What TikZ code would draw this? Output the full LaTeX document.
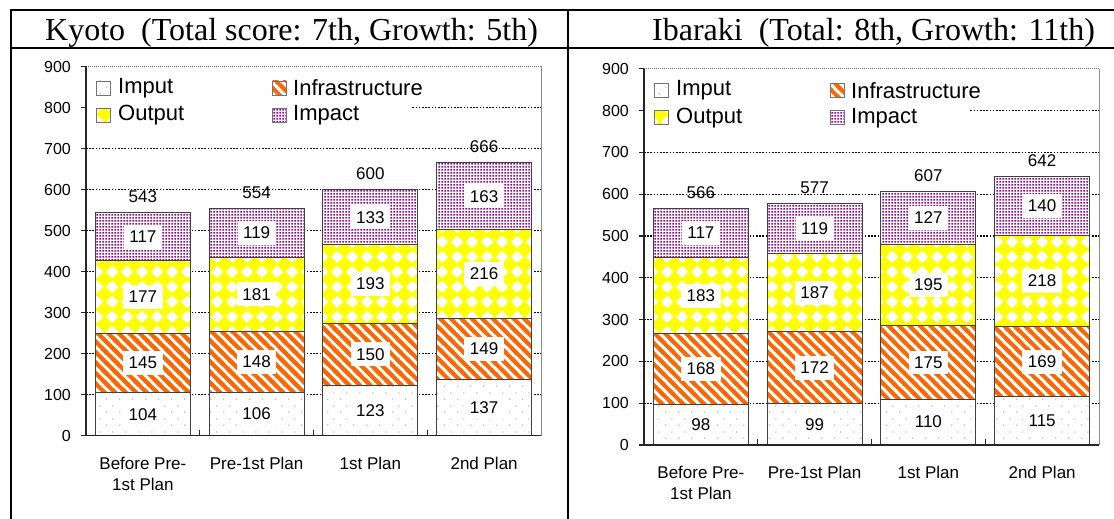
\documentclass[tikz,border=0pt]{standalone}
\usepackage{fontspec}
\setmainfont{Liberation Serif}
\setsansfont{Liberation Sans}
\usetikzlibrary{patterns}

\definecolor{infraorange}{RGB}{255,102,0}
\definecolor{outyellow}{RGB}{255,255,0}
\definecolor{imppurple}{RGB}{153,0,153}

% sparse grey dots
\pgfdeclarepatternformonly{imputdots}{\pgfqpoint{0pt}{0pt}}{\pgfqpoint{13pt}{13pt}}{\pgfqpoint{13pt}{13pt}}{%
  \pgfpathcircle{\pgfqpoint{3pt}{3pt}}{0.8pt}%
  \pgfpathcircle{\pgfqpoint{9.5pt}{9.5pt}}{0.8pt}%
  \pgfusepath{fill}}
% broad falling stripes
\pgfdeclarepatternformonly{infrastripes}{\pgfqpoint{-4pt}{-4pt}}{\pgfqpoint{14.5pt}{14.5pt}}{\pgfqpoint{10.5pt}{10.5pt}}{%
  \pgfsetlinewidth{3.9pt}%
  \pgfpathmoveto{\pgfqpoint{-4pt}{14.5pt}}%
  \pgfpathlineto{\pgfqpoint{14.5pt}{-4pt}}%
  \pgfusepath{stroke}}
% diamond grid
\newcommand{\dmdpath}[2]{%
  \pgfpathmoveto{\pgfpointadd{\pgfqpoint{#1}{#2}}{\pgfqpoint{8.3pt}{0pt}}}%
  \pgfpathlineto{\pgfpointadd{\pgfqpoint{#1}{#2}}{\pgfqpoint{0pt}{8.3pt}}}%
  \pgfpathlineto{\pgfpointadd{\pgfqpoint{#1}{#2}}{\pgfqpoint{-8.3pt}{0pt}}}%
  \pgfpathlineto{\pgfpointadd{\pgfqpoint{#1}{#2}}{\pgfqpoint{0pt}{-8.3pt}}}%
  \pgfpathclose}
\pgfdeclarepatternformonly{outdiamonds}{\pgfqpoint{0pt}{0pt}}{\pgfqpoint{15pt}{15pt}}{\pgfqpoint{15pt}{15pt}}{%
  \dmdpath{0pt}{0pt}\dmdpath{15pt}{0pt}\dmdpath{0pt}{15pt}\dmdpath{15pt}{15pt}%
  \pgfusepath{fill}}
% dense purple dots
\pgfdeclarepatternformonly{impactdots}{\pgfqpoint{0pt}{0pt}}{\pgfqpoint{3pt}{3pt}}{\pgfqpoint{3pt}{3pt}}{%
  \pgfpathrectangle{\pgfqpoint{0.5pt}{0.5pt}}{\pgfqpoint{2pt}{2pt}}%
  \pgfusepath{fill}}

\tikzset{
  tableline/.style={line width=2pt, line cap=rect},
  titletext/.style={font=\fontsize{32}{36}\selectfont, inner sep=0pt},
  gridline/.style={line width=1.3pt, dash pattern=on 1.6pt off 1.6pt, black},
  topgrid/.style={line width=0.8pt, dash pattern=on 1pt off 1pt, black!55},
  axisline/.style={line width=1.2pt, black!85},
  plotborder/.style={line width=1pt, black!45},
  segedge/.style={draw=black!75, line width=0.9pt, preaction={fill=white}},
  imputfill/.style={pattern=imputdots, pattern color=black!30},
  infrafill/.style={pattern=infrastripes, pattern color=infraorange},
  outfill/.style={pattern=outdiamonds, pattern color=outyellow},
  impfill/.style={pattern=impactdots, pattern color=imppurple},
  vlabel/.style={fill=white, font=\sffamily\fontsize{17}{17}\selectfont, inner xsep=5.5pt, inner ysep=6pt},
  totlabel/.style={font=\sffamily\fontsize{17}{17}\selectfont, inner sep=0pt},
  axlabel/.style={font=\sffamily\fontsize{16}{16}\selectfont, inner sep=0pt, anchor=east},
  catlabel/.style={font=\sffamily\fontsize{17}{21}\selectfont, align=center, inner sep=0pt, anchor=north},
  legsq/.style={draw=black!55, line width=0.8pt, preaction={fill=white}},
  legtext/.style={font=\sffamily\fontsize{22}{22}\selectfont, inner sep=0pt, anchor=west},
}

% #1 name prefix, #2 x of value axis, #3 y of zero line, #4 px per unit,
% #5 bars: index/imput/infrastructure/output/impact/total
\newcommand{\stackchart}[5]{%
  \pgfmathsetmacro{\catw}{113.75}
  \pgfmathsetmacro{\xend}{#2+4*\catw}
  \pgfmathsetmacro{\ytop}{#3-900*#4}
  % grid, frame of the plot area
  \foreach \g in {100,200,...,800}{
    \draw[gridline] (#2,{#3-\g*#4}) -- (\xend,{#3-\g*#4});
  }
  \draw[topgrid] (#2,\ytop) -- (\xend,\ytop);
  \draw[plotborder] (\xend,#3) -- (\xend,\ytop);
  % legend
  \fill[white] ({#2+1},{\ytop+2}) rectangle ({#2+325},{\ytop+68});
  \draw[legsq, imputfill] ({#2+10},{\ytop+14.5}) rectangle ({#2+24},{\ytop+28.5});
  \node[legtext] (#1-leg1) at ({#2+32},{\ytop+21.5}) {Imput};
  \draw[legsq, infrafill] ({#2+186},{\ytop+14.5}) rectangle ({#2+200},{\ytop+28.5});
  \node[legtext] (#1-leg2) at ({#2+207},{\ytop+21.5}) {Infrastructure};
  \draw[legsq, outfill] ({#2+10},{\ytop+42}) rectangle ({#2+24},{\ytop+56});
  \node[legtext] (#1-leg3) at ({#2+32},{\ytop+49}) {Output};
  \draw[legsq, impfill] ({#2+186},{\ytop+42}) rectangle ({#2+200},{\ytop+56});
  \node[legtext] (#1-leg4) at ({#2+207},{\ytop+49}) {Impact};
  % stacked bars
  \foreach \k/\va/\vb/\vc/\vd/\tot in {#5}{
    \pgfmathsetmacro{\barL}{#2+(\k-0.5)*\catw-47.5}
    \pgfmathsetmacro{\barR}{\barL+95}
    \pgfmathsetmacro{\barC}{\barL+47.5}
    \pgfmathsetmacro{\yB}{#3-#4*\va}
    \pgfmathsetmacro{\yC}{\yB-#4*\vb}
    \pgfmathsetmacro{\yD}{\yC-#4*\vc}
    \pgfmathsetmacro{\yE}{\yD-#4*\vd}
    \draw[segedge, imputfill] (\barL,#3) rectangle (\barR,\yB);
    \draw[segedge, infrafill] (\barL,\yB) rectangle (\barR,\yC);
    \draw[segedge, outfill] (\barL,\yC) rectangle (\barR,\yD);
    \draw[segedge, impfill] (\barL,\yD) rectangle (\barR,\yE);
    \node[vlabel] (#1-a\k) at (\barC,{(#3+\yB)/2}) {\va};
    \node[vlabel] (#1-b\k) at (\barC,{(\yB+\yC)/2}) {\vb};
    \node[vlabel] (#1-c\k) at (\barC,{(\yC+\yD)/2}) {\vc};
    \node[vlabel] (#1-d\k) at (\barC,{(\yD+\yE)/2}) {\vd};
    \node[totlabel] (#1-t\k) at (\barC,{\yE-16}) {\tot};
  }
  % axes and ticks
  \draw[axisline] (#2,\ytop) -- (#2,#3) -- (\xend,#3);
  \foreach \g in {0,100,...,900}{
    \draw[axisline] ({#2-5},{#3-\g*#4}) -- (#2,{#3-\g*#4});
    \node[axlabel] (#1-y\g) at ({#2-15},{#3-\g*#4}) {\g};
  }
  \foreach \k in {1,2,3}{
    \draw[axisline] ({#2+\k*\catw},#3) -- ({#2+\k*\catw},{#3-6});
  }
  % category names
  \foreach \k/\txt in {1/{Before Pre-\\1st Plan},2/{Pre-1st Plan},3/{1st Plan},4/{2nd Plan}}{
    \node[catlabel] (#1-cat\k) at ({#2+(\k-0.5)*\catw},{#3+21}) {\txt};
  }
}

\begin{document}
\begin{tikzpicture}[x=1pt,y=-1pt]
\useasboundingbox (0,0) rectangle (1114,519);
\fill[white] (0,0) rectangle (1114,519);

% table rules
\draw[tableline] (1114,10.5) -- (11,10.5) -- (11,519);
\draw[tableline] (11,48) -- (1114,48);
\draw[tableline] (568,10.5) -- (568,519);

% headings
\node[titletext, anchor=base west] (kyoto-title) at (45,41) {Kyoto\ \ (Total score: 7th, Growth: 5th)};
\node[titletext, anchor=base west] (ibaraki-title) at (652,41) {Ibaraki\ \ (Total: 8th, Growth: 11th)};

% charts
\stackchart{kyoto}{86}{435.5}{0.41}{1/104/145/177/117/543,2/106/148/181/119/554,3/123/150/193/133/600,4/137/149/216/163/666}
\stackchart{ibaraki}{644}{445}{0.418}{1/98/168/183/117/566,2/99/172/187/119/577,3/110/175/195/127/607,4/115/169/218/140/642}
\end{tikzpicture}
\end{document}
